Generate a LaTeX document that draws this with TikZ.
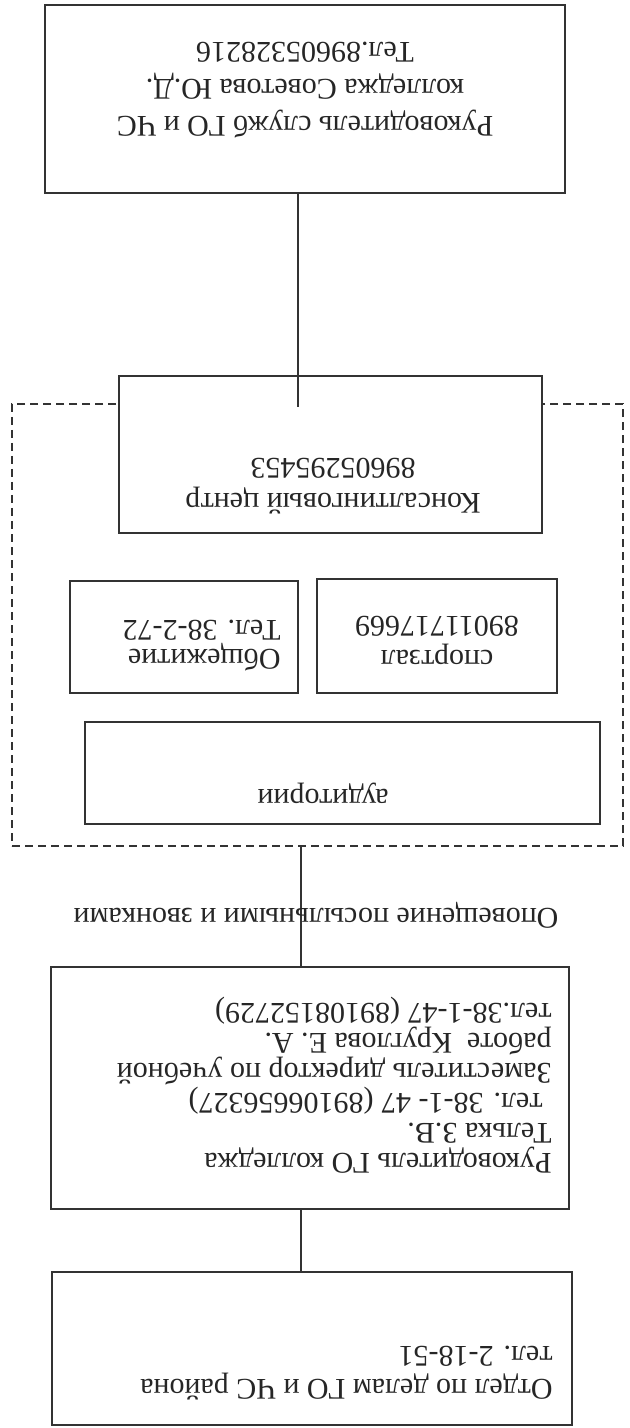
\documentclass[tikz,border=0pt]{standalone}
\usepackage{fontspec}
\setmainfont{Liberation Serif}
\usetikzlibrary{fit}
\begin{document}
\begin{tikzpicture}[x=0.5pt,y=-0.5pt,
  box/.style={draw=black!80, line width=0.8pt, fill=white, inner sep=0pt},
  grpbox/.style={draw=black!80, line width=0.8pt, dash pattern=on 4pt off 2.5pt, inner sep=0pt},
  link/.style={draw=black!80, line width=0.8pt},
  txt/.style={rotate=180, inner sep=0pt, text=black!85, font=\fontsize{15}{17}\selectfont},
]
\useasboundingbox[fill=white] (0,0) rectangle (630,1428);

% group frame
\node[grpbox, fit={(12,404) (623,846)}] (grp) {};

% boxes
\node[box, fit={(45,5) (565,193)}] (b1) {};
\node[box, fit={(119,376) (542,533)}] (kc) {};
\node[box, fit={(70,581) (298,693)}] (ob) {};
\node[box, fit={(317,579) (557,693)}] (sp) {};
\node[box, fit={(85,722) (600,824)}] (au) {};
\node[box, fit={(51,967) (569,1209)}] (rg) {};
\node[box, fit={(52,1272) (572,1425)}] (od) {};

% connectors
\coordinate (ua) at (298,407);
\draw[link] (b1.south -| ua) -- (ua);
\coordinate (la) at (301,0);
\draw[link] (grp.south -| la) -- (rg.north -| la);
\draw[link] (rg.south -| la) -- (od.north -| la);

% texts (the sheet is upside down)
\node[txt, align=center, font=\fontsize{15}{18.5}\selectfont] (t1) at (305,90)
  {Руководитель служб ГО и ЧС\\колледжа Советова Ю.Д.\\Тел.89605328216};
\node[txt, align=center, font=\fontsize{15}{17.5}\selectfont] (tkc) at (333,486)
  {Консалтинговый центр\\89605295453};
\node[txt, align=left, anchor=west, font=\fontsize{15}{14.5}\selectfont] (tob) at (281,646)
  {Общежитие\\Тел. 38-2-72};
\node[txt, align=center, font=\fontsize{15}{17}\selectfont] (tsp) at (437,640)
  {спортзал\\89011717669};
\node[txt] (tau) at (323,793) {аудитории};
\node[txt] (tlab) at (316,915) {Оповещение посыльными и звонками};
\node[txt, align=left, anchor=west, font=\fontsize{15}{15}\selectfont] (trg) at (552,1085)
  {Руководитель ГО колледжа\\Телька З.В.\\\hspace*{0.3em}тел. 38-1- 47 (89106656327)\\Заместитель директор по учебной\\работе\ \ Круглова Е. А.\\тел.38-1-47 (89108152729)};
\node[txt, align=left, anchor=west, font=\fontsize{15}{16.5}\selectfont] (tod) at (553,1373)
  {Отдел по делам ГО и ЧС района\\тел. 2-18-51};
\end{tikzpicture}
\end{document}
